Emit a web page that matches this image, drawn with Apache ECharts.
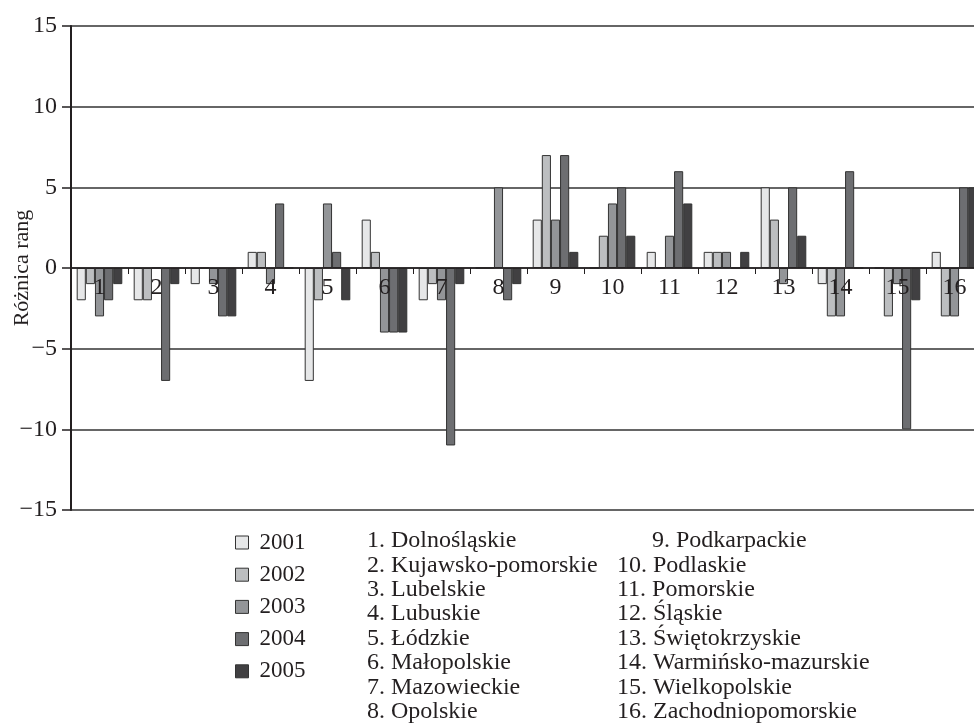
<!DOCTYPE html>
<html>
<head>
<meta charset="utf-8">
<script src="https://cdn.jsdelivr.net/npm/echarts@6/dist/echarts.min.js"></script>
<style>
html,body{margin:0;padding:0;background:#fff;}
#c{width:974px;height:723px;}
</style>
</head>
<body>
<div id="c"></div>
<script>
const categories = ['1','2','3','4','5','6','7','8','9','10','11','12','13','14','15','16'];
const years = ['2001','2002','2003','2004','2005'];
const v2001 = [-2,-2,-1, 1,-7, 3,-2, 0, 3, 0, 1, 1, 5,-1, 0, 1];
const v2002 = [-1,-2, 0, 1,-2, 1,-1, 0, 7, 2, 0, 1, 3,-3,-3,-3];
const v2003 = [-3, 0,-1,-1, 4,-4,-2, 5, 3, 4, 2, 1,-1,-3,-1,-3];
const v2004 = [-2,-7,-3, 4, 1,-4,-11,-2, 7, 5, 6, 0, 5, 6,-10, 5];
const v2005 = [-1,-1,-3, 0,-2,-4,-1,-1, 1, 2, 4, 1, 2, 0,-2, 5];
const regions = ['Dolnośląskie','Kujawsko-pomorskie','Lubelskie','Lubuskie','Łódzkie','Małopolskie','Mazowieckie','Opolskie',
  'Podkarpackie','Podlaskie','Pomorskie','Śląskie','Świętokrzyskie','Warmińsko-mazurskie','Wielkopolskie','Zachodniopomorskie'];
const yTicks = [-15,-10,-5,0,5,10,15];
const yTitle = 'Różnica rang';

const colors = ['#e6e7e8','#bcbec0','#939598','#6d6e71','#414042'];
const allVals = [v2001, v2002, v2003, v2004, v2005];
const FONT = '"Liberation Serif", "DejaVu Serif", serif';
const INK = '#231f20';

const GRID = {left: 71, top: 26, width: 912, height: 484};
const yMin = yTicks[0], yMax = yTicks[yTicks.length-1];
const xOffset = -GRID.height * (0 - yMin) / (yMax - yMin);

const chart = echarts.init(document.getElementById('c'), null, {renderer:'canvas'});

const series = years.map((y, i) => ({
  name: y,
  type: 'bar',
  data: allVals[i],
  barGap: '0%',
  barCategoryGap: '20%',
  itemStyle: {color: colors[i], borderColor: '#333', borderWidth: 1},
  z: 2
}));

const graphics = [];
regions.forEach((r, i) => {
  const num = i + 1;
  const col = i < 8 ? 0 : 1;
  const row = i % 8;
  let x = col === 0 ? 367 : 617;
  if (col === 1 && num < 10) x = 652;
  graphics.push({
    type: 'text',
    x: x,
    y: 541 + row * 24.4,
    style: {text: num + '. ' + r, font: '24px ' + FONT, fill: INK, verticalAlign: 'middle', align: 'left'}
  });
});

chart.setOption({
  animation: false,
  backgroundColor: '#fff',
  grid: Object.assign({outerBoundsMode: 'none', containLabel: false}, GRID),
  legend: {
    orient: 'vertical',
    left: 235, top: 531,
    padding: 0,
    itemWidth: 13, itemHeight: 13, itemGap: 9.2,
    icon: 'rect',
    itemStyle: {borderColor: '#333', borderWidth: 1},
    textStyle: {fontFamily: FONT, fontSize: 23, color: INK, lineHeight: 22, padding: [0,0,0,6]},
    data: years
  },
  xAxis: {
    type: 'category',
    data: categories,
    z: 10,
    offset: xOffset,
    axisLine: {onZero: false, lineStyle: {color: INK, width: 1.5}},
    axisTick: {show: true, length: 6, lineStyle: {color: INK, width: 1}},
    axisLabel: {interval: 0, margin: 8, fontFamily: FONT, fontSize: 24, color: INK},
    splitLine: {show: false}
  },
  yAxis: {
    type: 'value',
    min: yMin, max: yMax, interval: 5,
    name: yTitle,
    nameLocation: 'middle',
    nameGap: 38,
    nameMoveOverlap: false,
    nameTextStyle: {fontFamily: FONT, fontSize: 22, color: INK},
    axisLine: {show: true, lineStyle: {color: INK, width: 2}},
    axisTick: {show: true, length: 9, lineStyle: {color: INK, width: 1.5}},
    axisLabel: {margin: 14, fontFamily: FONT, fontSize: 24, color: INK,
      formatter: v => String(v).replace('-', '\u2212')},
    splitLine: {show: true, lineStyle: {color: '#333', width: 1.5}}
  },
  graphic: graphics,
  series: series
});
</script>
</body>
</html>
